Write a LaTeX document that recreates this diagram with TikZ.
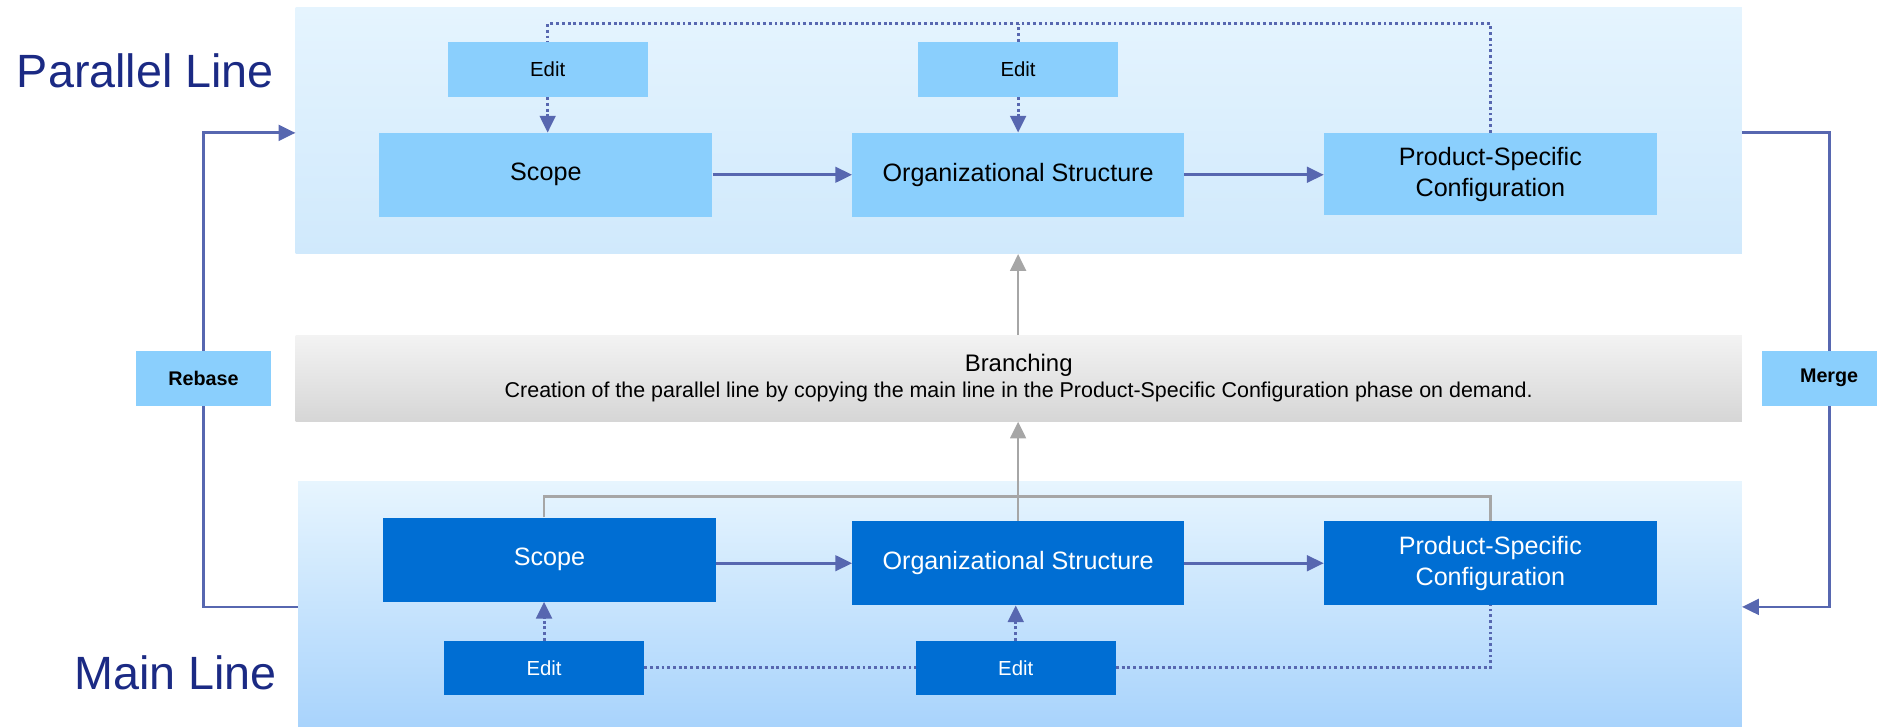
\documentclass[tikz,border=0pt]{standalone}
\usepackage{fontspec}
\setmainfont{Liberation Sans}
\usetikzlibrary{arrows.meta}
\definecolor{lboxc}{HTML}{8ACFFD}
\definecolor{dboxc}{HTML}{006ED3}
\definecolor{arrc}{HTML}{5767B0}
\definecolor{grayc}{HTML}{A6A6A6}
\definecolor{titlec}{HTML}{1B2A84}
\definecolor{ptop}{HTML}{E5F4FE}
\definecolor{pbot}{HTML}{D0E9FC}
\definecolor{mtop}{HTML}{E7F5FE}
\definecolor{mbot}{HTML}{A8D3FC}
\definecolor{btop}{HTML}{F3F3F3}
\definecolor{bbot}{HTML}{D6D6D6}
\begin{document}
\begin{tikzpicture}[x=1pt,y=-1pt,
  lightbox/.style={fill=lboxc, inner sep=0pt, align=center, font=\fontsize{21}{26}\selectfont},
  darkbox/.style={fill=dboxc, text=white, inner sep=0pt, align=center, font=\fontsize{21}{26}\selectfont},
  editlight/.style={lightbox, minimum width=167, minimum height=46, font=\fontsize{17}{20}\selectfont},
  editdark/.style={darkbox, minimum width=167, minimum height=45, font=\fontsize{17}{20}\selectfont},
  stepbox/.style={minimum width=278, minimum height=70},
  sidebox/.style={fill=lboxc, inner sep=0pt, minimum width=112, minimum height=46, font=\fontsize{16.5}{19}\selectfont\bfseries},
  panel/.style={inner sep=0pt},
  arr/.style={draw=arrc, line width=2.3pt, -{Triangle[length=14pt,width=13pt]}},
  dotline/.style={draw=arrc, line width=2.5pt, dash pattern=on 2.4pt off 2.4pt},
  dotarr/.style={dotline, -{Triangle[length=14pt,width=13pt]}},
  grayline/.style={draw=grayc, line width=2.3pt},
  grayarr/.style={grayline, -{Triangle[length=14pt,width=13pt]}},
  title/.style={text=titlec, font=\fontsize{39}{44}\selectfont, anchor=base west, inner sep=0pt}
]
\useasboundingbox (0,0) rectangle (1568,607);

% panels
\node[panel, top color=ptop, bottom color=pbot, minimum width=1208, minimum height=206] (tpanel) at (851,109) {};
\node[panel, top color=mtop, bottom color=mbot, minimum width=1206, minimum height=206] (mpanel) at (852,505) {};
\node[panel, top color=btop, bottom color=bbot, minimum width=1208, minimum height=72, align=center]
  (br) at (851,316) {\fontsize{20}{24}\selectfont Branching\\[4pt]\fontsize{17.9}{22}\selectfont Creation of the parallel line by copying the main line in the Product-Specific Configuration phase on demand.};

% titles
\node[title] (tParallel) at (14,73.5) {Parallel Line};
\node[title] (tMain) at (62,576) {Main Line};

% rails
\coordinate (toprail) at (0,20);
\coordinate (grail) at (0,415);
\coordinate (rebTop) at (0,111);
\coordinate (rebBot) at (0,507);

% top line nodes
\node[editlight] (te1) at (457.5,58) {Edit};
\node[editlight] (te2) at (850.5,58) {Edit};
\node[lightbox, stepbox] (ts) at (456,146) {Scope};
\node[lightbox, stepbox, minimum width=277] (to) at (850.5,146) {Organizational Structure};
\node[lightbox, stepbox, minimum height=69] (tp) at (1245,145.5) {Product-Specific\\Configuration};

% main line nodes
\node[darkbox, stepbox] (ms) at (459,467.5) {Scope};
\node[darkbox, stepbox, minimum width=277] (mo) at (850.5,470.5) {Organizational Structure};
\node[darkbox, stepbox] (mp) at (1245,470.5) {Product-Specific\\Configuration};
\node[editdark] (me1) at (454.5,558) {Edit};
\node[editdark] (me2) at (848.5,558) {Edit};

% top connectors
\draw[dotline] (tp.north) -- (tp.north |- toprail) -- (te1.north |- toprail) -- (te1.north);
\draw[dotline] (te2.north) -- (te2.north |- toprail);
\draw[dotarr] (te1.south) -- (ts.north -| te1.south);
\draw[dotarr] (te2.south) -- (to.north -| te2.south);
\draw[arr] (ts.east) -- (to.west);
\draw[arr] (to.east) -- (tp.west |- to.east);

% main connectors
\draw[arr] (ms.east |- mo.west) -- (mo.west);
\draw[arr] (mo.east) -- (mp.west);
\draw[dotline] (me1.east) -- (me2.west);
\draw[dotline] (me2.east) -- (mp.south |- me2.east) -- (mp.south);
\draw[dotarr] (me1.north) -- (ms.south -| me1.north);
\draw[dotarr] (me2.north) -- (mo.south -| me2.north);

% gray branching connectors
\draw[grayline] (ms.north -| me1.north) -- (me1.north |- grail) -- (mp.north |- grail) -- (mp.north);
\draw[grayarr] (mo.north) -- (mo.north |- br.south);
\draw[grayarr] (br.north -| mo.north) -- (tpanel.south -| mo.north);

% rebase / merge
\coordinate (rebX) at (170,0);
\coordinate (mrgX) at (1528,0);
\draw[arr] (mpanel.west |- rebBot) -- (rebX |- rebBot) -- (rebX |- rebTop) -- (tpanel.west |- rebTop);
\draw[arr] (tpanel.east |- rebTop) -- (mrgX |- rebTop) -- (mrgX |- rebBot) -- (mpanel.east |- rebBot);
\node[sidebox] (rb) at (rebX |- br) {Rebase};
\node[sidebox] (mg) at (mrgX |- br) {Merge};
\end{tikzpicture}
\end{document}
